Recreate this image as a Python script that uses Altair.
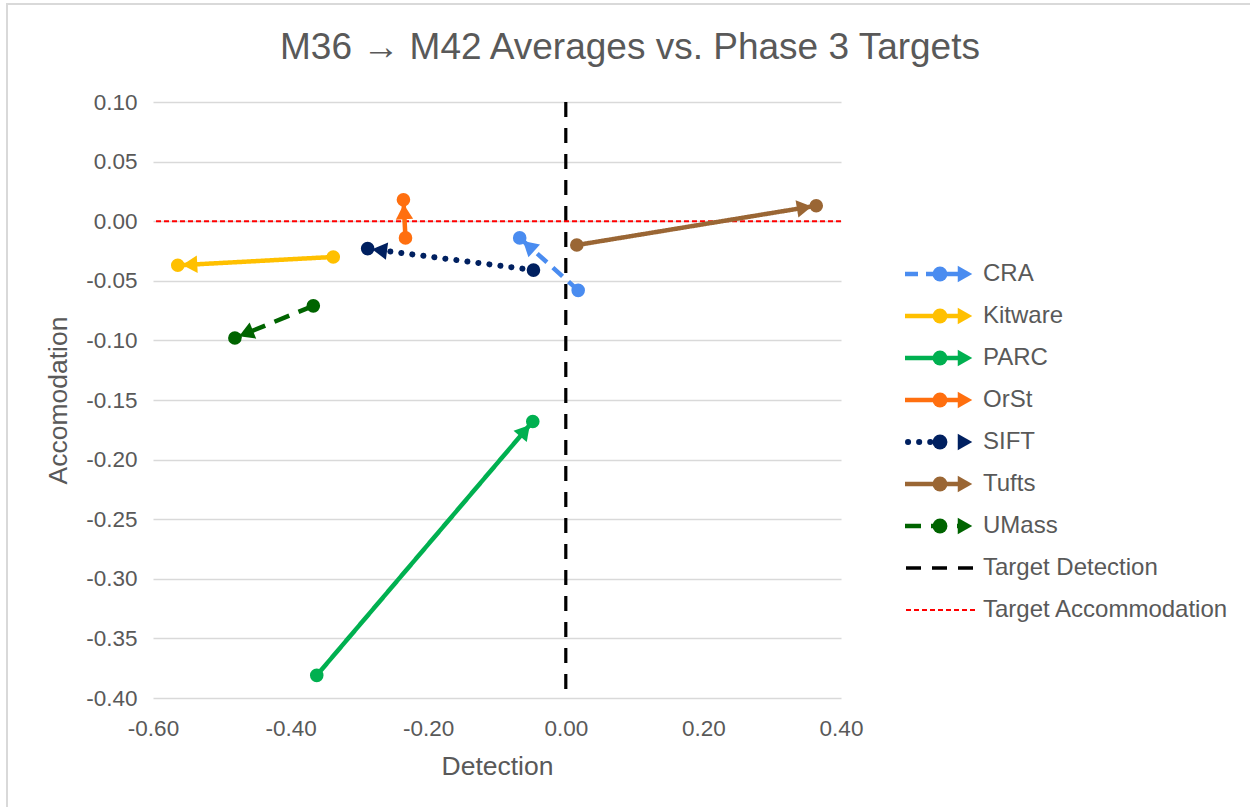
import math
import altair as alt
import pandas as pd

# ---------------- data ----------------
series = ["CRA", "Kitware", "PARC", "OrSt", "SIFT", "Tufts", "UMass"]
m36_detection = [0.018, -0.338, -0.362, -0.233, -0.047, 0.016, -0.367]
m36_accommodation = [-0.058, -0.030, -0.381, -0.014, -0.041, -0.020, -0.071]
m42_detection = [-0.067, -0.564, -0.048, -0.236, -0.288, 0.364, -0.481]
m42_accommodation = [-0.014, -0.037, -0.168, 0.018, -0.023, 0.013, -0.098]
target_detection = [0.0]
target_accommodation = [0.0]
legend_labels = series + ["Target Detection", "Target Accommodation"]
title_text = ["M36 \u2192 M42 Averages vs. Phase 3 Targets"]
x_ticks = [-0.6, -0.4, -0.2, 0.0, 0.2, 0.4]
y_ticks = [0.10, 0.05, 0.0, -0.05, -0.10, -0.15, -0.20, -0.25, -0.30, -0.35, -0.40]

# ---------------- style ----------------
colors = ["#4A8CF0", "#FFC000", "#00B050", "#FF6F0F", "#002060", "#9A6634",
          "#006400", "#000000", "#FF0000"]
dashes = [[13, 8], [1, 0], [1, 0], [1, 0], [0.1, 11], [1, 0], [16, 10], [15, 11], [5, 3]]
W, H = 688, 596
X_DOMAIN = [-0.6, 0.4]
Y_DOMAIN = [-0.4, 0.1]
FONT = "Liberation Sans"
GREY = "#595959"

sx = W / (X_DOMAIN[1] - X_DOMAIN[0])
sy = H / (Y_DOMAIN[1] - Y_DOMAIN[0])

rows = []
for i, s in enumerate(series):
    rows.append({"series": s, "order": 0, "x": m36_detection[i], "y": m36_accommodation[i]})
    rows.append({"series": s, "order": 1, "x": m42_detection[i], "y": m42_accommodation[i]})
pts = pd.DataFrame(rows)

arrows = []
BACK = 12
for i, s in enumerate(series):
    px = (m42_detection[i] - m36_detection[i]) * sx
    py = (m42_accommodation[i] - m36_accommodation[i]) * sy
    L = math.hypot(px, py)
    ang = math.degrees(math.atan2(px, py)) % 360
    arrows.append({
        "series": s,
        "x": m42_detection[i] - px / L * BACK / sx,
        "y": m42_accommodation[i] - py / L * BACK / sy,
        "angle": ang,
    })
arr = pd.DataFrame(arrows)

color_scale = alt.Scale(domain=legend_labels, range=colors)
dash_scale = alt.Scale(domain=legend_labels, range=dashes)
xs = alt.Scale(domain=X_DOMAIN, nice=False, zero=False)
ys = alt.Scale(domain=Y_DOMAIN, nice=False, zero=False)
fix_minus = "replace(format(datum.value, '.2f'), '\u2212', '-')"
x_axis = alt.Axis(values=x_ticks, labelExpr=fix_minus, grid=False, domain=False,
                  ticks=False, labelFontSize=22.5, labelColor=GREY, labelFont=FONT,
                  labelPadding=19, labelFlush=False, title="Detection", titleFontSize=26.5,
                  titleColor=GREY, titleFont=FONT, titleFontWeight="normal",
                  titlePadding=14)
y_axis = alt.Axis(values=y_ticks, labelExpr=fix_minus, grid=True, gridColor="#D9D9D9",
                  gridWidth=1.3, domain=False, ticks=False, labelFontSize=22.5,
                  labelColor=GREY, labelFont=FONT, labelPadding=16, labelFlush=False,
                  title="Accomodation", titleFontSize=26.5, titleColor=GREY,
                  titleFont=FONT, titleFontWeight="normal", titlePadding=13)

X = alt.X("x:Q", scale=xs, axis=x_axis)
Y = alt.Y("y:Q", scale=ys, axis=y_axis)
C = alt.Color("series:N", scale=color_scale, legend=None)
D = alt.StrokeDash("series:N", scale=dash_scale, legend=None)

tdet = alt.Chart(pd.DataFrame({"x": target_detection})).mark_rule(
    color="#000000", strokeWidth=3.2, strokeDash=[15, 11]).encode(x=X)
tacc = alt.Chart(pd.DataFrame({"y": target_accommodation})).mark_rule(
    color="#FF0000", strokeWidth=2, strokeDash=[5, 3]).encode(y=Y)

lines = alt.Chart(pts).transform_filter(alt.datum.series != "SIFT").mark_line(
    strokeWidth=4.5, strokeCap="butt").encode(x=X, y=Y, color=C, strokeDash=D,
                                              order="order:Q")
sift = alt.Chart(pts).transform_filter(alt.datum.series == "SIFT").mark_line(
    strokeWidth=6, strokeCap="round").encode(x=X, y=Y, color=C, strokeDash=D,
                                             order="order:Q")
dots = alt.Chart(pts).mark_circle(size=185, opacity=1).encode(x=X, y=Y, color=C)
heads = alt.Chart(arr).mark_point(shape="triangle-up", filled=True, size=300,
                                  opacity=1).encode(
    x=X, y=Y, color=C, angle=alt.Angle("angle:Q", scale=None))

main = alt.layer(tdet, tacc, lines, sift, dots, heads)

# ---------------- legend & title ----------------
leg = pd.DataFrame({"series": legend_labels})
LY = alt.Y("series:N", scale=alt.Scale(domain=legend_labels, range=[151, 529]),
           axis=None)
teams_no_sift = alt.FieldOneOfPredicate(field="series",
                                        oneOf=[s for s in series if s != "SIFT"])
leg_lines = alt.Chart(leg).transform_filter(teams_no_sift).mark_rule(
    strokeWidth=4.5, strokeCap="butt").encode(
    x=alt.value(752), x2=alt.value(810), y=LY, color=C, strokeDash=D)
leg_sift = alt.Chart(leg).transform_filter(alt.datum.series == "SIFT").mark_rule(
    strokeWidth=6, strokeCap="round").encode(
    x=alt.value(755), x2=alt.value(780), y=LY, color=C, strokeDash=D)
leg_tdet = alt.Chart(leg).transform_filter(alt.datum.series == "Target Detection").mark_rule(
    strokeWidth=3.5, strokeCap="butt").encode(
    x=alt.value(753), x2=alt.value(823), y=LY, color=C, strokeDash=D)
leg_tacc = alt.Chart(leg).transform_filter(alt.datum.series == "Target Accommodation").mark_rule(
    strokeWidth=2, strokeCap="butt").encode(
    x=alt.value(753), x2=alt.value(823), y=LY, color=C, strokeDash=D)
teams = alt.FieldOneOfPredicate(field="series", oneOf=series)
leg_dots = alt.Chart(leg).transform_filter(teams).mark_circle(size=220, opacity=1).encode(
    x=alt.value(787), y=LY, color=C)
leg_heads = alt.Chart(leg).transform_filter(teams).mark_point(
    shape="triangle-right", filled=True, size=280, opacity=1).encode(
    x=alt.value(812), y=LY, color=C)
leg_text = alt.Chart(leg).mark_text(align="left", baseline="middle", fontSize=24,
                                    color=GREY, font=FONT).encode(
    x=alt.value(830), y=LY, text="series:N")
border = alt.Chart(pd.DataFrame({"b": [0]})).mark_rect(
    fillOpacity=0, stroke="#D9D9D9", strokeWidth=2).encode(
    x=alt.value(-146), x2=alt.value(1110), y=alt.value(-98), y2=alt.value(720))
title = alt.Chart(pd.DataFrame({"t": title_text})).mark_text(
    align="center", baseline="middle", fontSize=37, color=GREY, font=FONT).encode(
    x=alt.value(477), y=alt.value(-54), text="t:N")

legend = alt.layer(border, leg_lines, leg_sift, leg_tdet, leg_tacc, leg_dots, leg_heads,
                   leg_text, title)

chart = alt.layer(main, legend).resolve_scale(y="independent").properties(
    width=W, height=H,
    autosize=alt.AutoSizeParams(type="none"),
    padding={"left": 153, "top": 102, "right": 409, "bottom": 109},
    background="white",
).configure_view(stroke="transparent", strokeWidth=0)

chart.save("out.html", embed_options={"renderer": "svg", "actions": False})
